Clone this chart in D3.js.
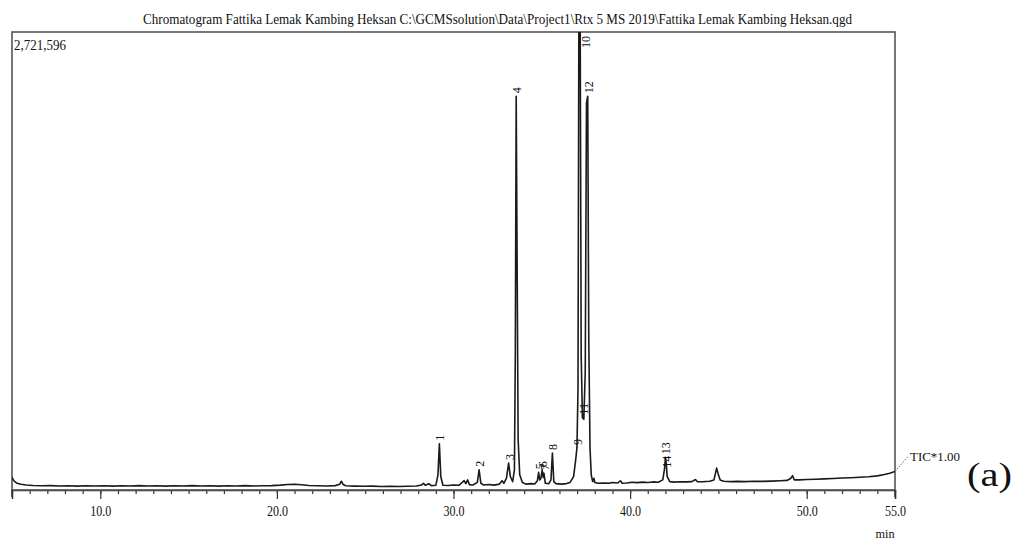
<!DOCTYPE html>
<html>
<head>
<meta charset="utf-8">
<script src="https://cdn.jsdelivr.net/npm/d3@7/dist/d3.min.js"></script>
<style>
  body { margin: 0; background: #fff; }
  svg { display: block; }
  text { font-family: "Liberation Serif", "Times New Roman", serif; fill: #111; }
</style>
</head>
<body>
<div id="chart"></div>
<script>
// retention time (min) / TIC intensity (counts)
const retentionTimes = [
  5.0, 5.1, 5.25, 5.5, 5.8, 6.2, 6.7, 7.2, 7.7, 8.2, 8.7, 9.2, 9.7, 10.2, 10.7, 11.2, 11.7, 12.2, 12.7, 13.2,
  13.7, 14.2, 14.7, 15.2, 15.7, 16.2, 16.7, 17.2, 17.7, 18.2, 18.7, 19.2, 19.7, 20.2, 20.6, 21.0, 21.4, 21.8, 22.3, 22.8,
  23.3, 23.55, 23.65, 23.75, 23.9, 24.4, 24.9, 25.4, 25.9, 26.4, 26.9, 27.4, 27.9, 28.2, 28.3, 28.4, 28.6, 28.75, 29.0, 29.12,
  29.2, 29.28, 29.4, 29.7, 30.0, 30.3, 30.5, 30.6, 30.7, 30.8, 30.9, 31.1, 31.35, 31.45, 31.55, 31.7, 32.0, 32.3, 32.6, 32.75,
  32.85, 33.0, 33.12, 33.22, 33.35, 33.45, 33.5, 33.55, 33.6, 33.66, 33.75, 33.9, 34.1, 34.4, 34.6, 34.75, 34.82, 34.88, 34.95, 35.02,
  35.08, 35.12, 35.2, 35.4, 35.52, 35.6, 35.68, 35.8, 36.1, 36.4, 36.6, 36.8, 36.92, 36.99, 37.05, 37.1, 37.17, 37.23, 37.3, 37.38,
  37.46, 37.53, 37.6, 37.66, 37.73, 37.8, 37.88, 37.95, 38.0, 38.2, 38.5, 38.8, 39.0, 39.3, 39.45, 39.55, 39.8, 40.1, 40.4, 40.7,
  41.0, 41.3, 41.6, 41.85, 41.95, 42.0, 42.05, 42.1, 42.25, 42.5, 42.8, 43.2, 43.5, 43.7, 43.8, 44.1, 44.5, 44.75, 44.9, 45.0,
  45.1, 45.3, 45.7, 46.1, 46.5, 47.0, 47.5, 48.0, 48.5, 48.9, 49.1, 49.2, 49.3, 49.6, 50.0, 50.5, 51.0, 51.5, 52.0, 52.5,
  53.0, 53.5, 54.0, 54.4, 54.7, 55.0
];
const intensities = [
  75000, 55000, 42000, 34000, 30000, 27000, 25000, 26000, 24000, 25000, 23000, 25000, 24000, 25000, 23000, 25000, 24000, 26000, 24000, 25000,
  23000, 25000, 24000, 26000, 24000, 25000, 23000, 25000, 24000, 26000, 24000, 25000, 26000, 29000, 33000, 34000, 31000, 27000, 25000, 24000,
  26000, 34000, 52000, 33000, 25000, 23000, 22000, 23000, 21000, 22000, 21000, 22000, 24000, 30000, 40000, 28000, 37000, 26000, 28000, 90000,
  275000, 80000, 28000, 27000, 30000, 28000, 45000, 56000, 38000, 60000, 32000, 30000, 45000, 120000, 40000, 30000, 33000, 29000, 35000, 55000,
  40000, 70000, 160000, 80000, 50000, 120000, 800000, 2340000, 1400000, 300000, 90000, 45000, 35000, 38000, 36000, 55000, 105000, 60000, 70000, 118000,
  75000, 100000, 40000, 38000, 60000, 220000, 50000, 38000, 35000, 38000, 45000, 80000, 180000, 250000, 600000, 2900000, 2900000, 800000, 430000, 420000,
  700000, 2300000, 2340000, 900000, 250000, 90000, 50000, 70000, 45000, 40000, 42000, 40000, 45000, 42000, 55000, 40000, 42000, 46000, 44000, 47000,
  45000, 48000, 46000, 60000, 125000, 195000, 155000, 80000, 50000, 47000, 49000, 48000, 50000, 62000, 50000, 49000, 52000, 60000, 130000, 90000,
  60000, 52000, 50000, 51000, 50000, 52000, 51000, 53000, 55000, 57000, 70000, 85000, 60000, 60000, 62000, 64000, 66000, 68000, 71000, 73000,
  76000, 79000, 84000, 92000, 100000, 110000
];

// peak numbers and where their labels sit
const peakNumbers = ['1', '2', '3', '4', '5', '6', '7', '8', '9', '10', '11', '12', '13', '14'];
const peakTimes = [29.2, 31.45, 33.12, 33.55, 34.82, 35.02, 35.12, 35.6, 36.99, 37.14, 37.34, 37.6, 42.0, 42.05];
const peakLabelLevels = [275000, 120000, 160000, 2340000, 105000, 118000, 100000, 220000, 250000, 2900000, 430000, 2340000, 195000, 115000];

const majorTicks = [10, 20, 30, 40, 50, 55];
const majorTickLabels = ['10.0', '20.0', '30.0', '40.0', '50.0', '55.0'];
const xDomain = [5, 55];
const yMax = 2721596;

const titleText = 'Chromatogram Fattika Lemak Kambing Heksan C:\\GCMSsolution\\Data\\Project1\\Rtx 5 MS 2019\\Fattika Lemak Kambing Heksan.qgd';

const margins = { top: 32, right: 123, bottom: 53, left: 12 };
const width = 1018 - margins.left - margins.right;
const height = 543 - margins.top - margins.bottom;

const root = d3.select('#chart')
  .append('svg')
  .attr('width', 1018)
  .attr('height', 543);

const svg = root.append('g')
  .attr('transform', `translate(${margins.left},${margins.top})`);

const x = d3.scaleLinear().domain(xDomain).range([0, width]);
const y = d3.scaleLinear().domain([0, yMax]).range([height, 0]);

// clip so the tallest peak stops at the frame
svg.append('clipPath')
  .attr('id', 'plotClip')
  .append('rect')
  .attr('x', 0)
  .attr('y', 0)
  .attr('width', width)
  .attr('height', height);

// minor ticks every minute
svg.append('g')
  .attr('transform', `translate(0,${height})`)
  .call(d3.axisBottom(x).tickValues(d3.range(5, 56, 1)).tickSize(4).tickFormat(''))
  .call(g => g.select('.domain').remove())
  .call(g => g.selectAll('line').attr('stroke', '#333').attr('stroke-width', 1.2));

// major ticks with labels
const xAxis = svg.append('g')
  .attr('transform', `translate(0,${height})`)
  .call(d3.axisBottom(x)
    .tickValues(majorTicks)
    .tickSize(9)
    .tickPadding(7)
    .tickFormat((d, i) => majorTickLabels[i]));

xAxis.select('.domain').attr('stroke', '#333').attr('stroke-width', 1.5);
xAxis.selectAll('line').attr('stroke', '#333').attr('stroke-width', 1.2);
xAxis.selectAll('text')
  .attr('fill', '#111')
  .style('font-family', '"Liberation Serif", serif')
  .style('font-size', '14px')
  .attr('textLength', 21)
  .attr('lengthAdjust', 'spacingAndGlyphs');

// frame
svg.append('rect')
  .attr('width', width)
  .attr('height', height)
  .attr('fill', 'none')
  .attr('stroke', '#555')
  .attr('stroke-width', 1.6);

[0, width].forEach(px => {
  svg.append('line')
    .attr('x1', px).attr('x2', px)
    .attr('y1', height).attr('y2', height + 7)
    .attr('stroke', '#333')
    .attr('stroke-width', 1.5);
});

// TIC trace
const traceData = retentionTimes.map((t, i) => ({ t: t, v: intensities[i] }));
const line = d3.line()
  .x(d => x(d.t))
  .y(d => y(d.v));

svg.append('path')
  .datum(traceData)
  .attr('clip-path', 'url(#plotClip)')
  .attr('fill', 'none')
  .attr('stroke', '#1a1a1a')
  .attr('stroke-width', 1.6)
  .attr('stroke-linejoin', 'round')
  .attr('d', line);

// peak numbers, turned on their side
peakNumbers.forEach((n, i) => {
  const clipped = peakLabelLevels[i] > yMax;
  const px = x(peakTimes[i]) + (clipped ? 10 : 5);
  const py = clipped ? 16 : y(peakLabelLevels[i]) - 3;
  svg.append('text')
    .attr('transform', `translate(${px},${py}) rotate(-90)`)
    .style('font-size', '12px')
    .text(n);
});

// top-left full scale value
svg.append('text')
  .attr('x', 2)
  .attr('y', 18)
  .style('font-size', '15px')
  .attr('textLength', 52)
  .attr('lengthAdjust', 'spacingAndGlyphs')
  .text('2,721,596');

// TIC tag with dotted leader
const last = traceData[traceData.length - 1];
svg.append('line')
  .attr('x1', x(last.t))
  .attr('y1', y(last.v))
  .attr('x2', x(last.t) + 13)
  .attr('y2', y(last.v) - 15)
  .attr('stroke', '#666')
  .attr('stroke-width', 1)
  .attr('stroke-dasharray', '1.5,1.5');

svg.append('text')
  .attr('x', x(last.t) + 15)
  .attr('y', y(last.v) - 10)
  .style('font-size', '13px')
  .attr('textLength', 50)
  .attr('lengthAdjust', 'spacingAndGlyphs')
  .text('TIC*1.00');

// title
root.append('text')
  .attr('x', 143)
  .attr('y', 24)
  .style('font-size', '14px')
  .attr('textLength', 709)
  .attr('lengthAdjust', 'spacingAndGlyphs')
  .text(titleText);

// x unit
root.append('text')
  .attr('x', 885)
  .attr('y', 538)
  .attr('text-anchor', 'middle')
  .style('font-size', '13px')
  .attr('textLength', 19)
  .attr('lengthAdjust', 'spacingAndGlyphs')
  .text('min');

// panel tag
root.append('text')
  .attr('x', 967)
  .attr('y', 486)
  .style('font-size', '34px')
  .attr('textLength', 45)
  .attr('lengthAdjust', 'spacingAndGlyphs')
  .text('(a)');
</script>
</body>
</html>
